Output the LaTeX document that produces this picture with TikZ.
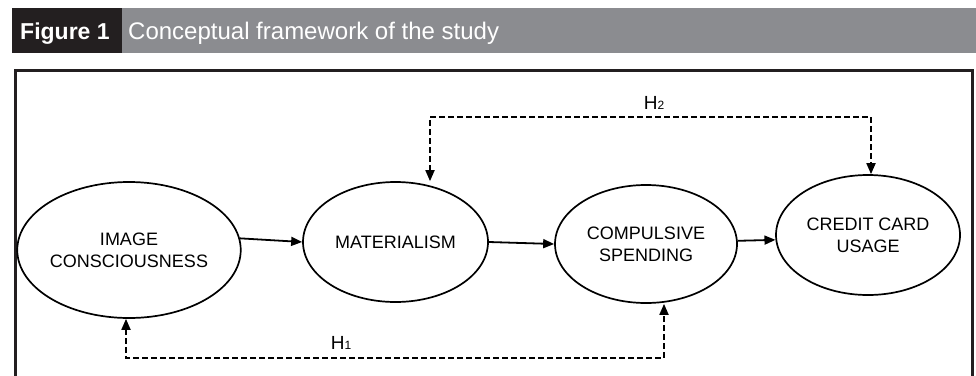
\documentclass[tikz,border=0pt]{standalone}
\usepackage{fontspec}
\setmainfont{Liberation Sans}
\usetikzlibrary{shapes.geometric,arrows.meta,calc}
\definecolor{hdrdark}{HTML}{231F20}
\definecolor{hdrgray}{HTML}{8B8C90}
\begin{document}
\begin{tikzpicture}[x=1pt,y=-1pt,
  ell/.style={ellipse, draw=black, line width=1.7pt, align=center,
    font=\fontsize{18}{22}\selectfont, inner sep=0pt},
  solidarr/.style={-{Triangle[length=11pt,width=9pt]}, line width=1.8pt},
  dasharr/.style={{Triangle[length=11pt,width=9pt]}-{Triangle[length=11pt,width=9pt]},
    line width=1.8pt, dash pattern=on 5.5pt off 3.5pt},
  hlabel/.style={font=\fontsize{19}{19}\selectfont, inner sep=0pt},
  hdrtext/.style={anchor=base west, text=white, inner sep=0pt}]
\useasboundingbox (0,0) rectangle (976,375);
% header
\fill[hdrdark] (12,8) rectangle (122,53);
\fill[hdrgray] (122,8) rectangle (976,53);
\node[hdrtext, font=\bfseries\fontsize{23}{23}\selectfont] (fig) at (20,39) {Figure 1};
\node[hdrtext, font=\fontsize{24}{24}\selectfont] (cap) at (128,39) {Conceptual framework of the study};
% frame
\draw[hdrdark, line width=3pt] (15.5,380) -- (15.5,70.5) -- (972.5,70.5) -- (972.5,380);
% ellipses
\node[ell, minimum width=190pt, minimum height=136pt] (img) at (129,250) {IMAGE\\CONSCIOUSNESS};
\node[ell, minimum width=185pt, minimum height=120pt] (mat) at (395.5,242) {MATERIALISM};
\node[ell, minimum width=182pt, minimum height=118pt] (comp) at (646,244) {COMPULSIVE\\SPENDING};
\node[ell, minimum width=184pt, minimum height=120pt] (cred) at (868,235) {CREDIT CARD\\USAGE};
% solid arrows
\draw[solidarr] (img.6) -- (mat.west);
\draw[solidarr] (mat.east) -- (comp.west);
\draw[solidarr] (comp.2) -- (cred.183);
% H2
\coordinate (h2a) at (430,117);
\coordinate (h2b) at (871,117);
\draw[dasharr] (mat.north -| h2a) -- (h2a) -- (h2b) -- (cred.north -| h2b);
\node[hlabel] (h2) at (654,103) {H\fontsize{12}{12}\selectfont 2};
% H1
\coordinate (h1a) at (126,358);
\coordinate (h1b) at (664,358);
\draw[dasharr] (img.south -| h1a) -- (h1a) -- (h1b) -- (comp.south -| h1b);
\node[hlabel] (h1) at (341,343) {H\fontsize{12}{12}\selectfont 1};
\end{tikzpicture}
\end{document}
